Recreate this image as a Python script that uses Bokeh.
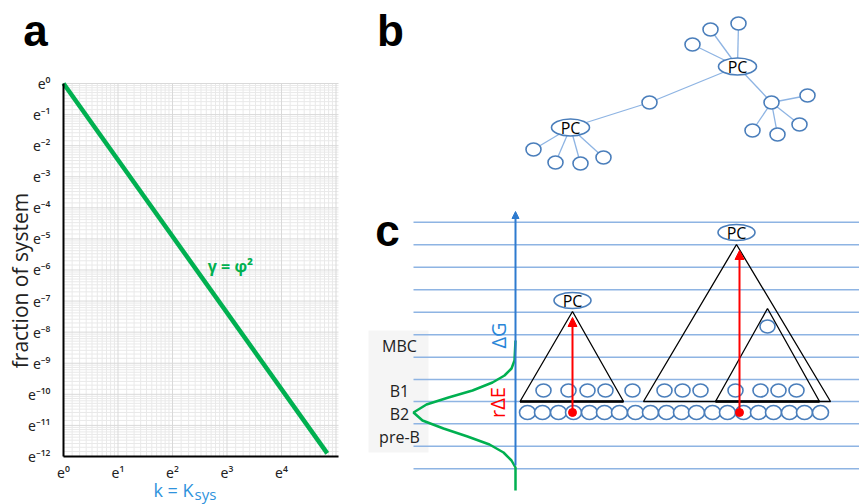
import math
import numpy as np
from bokeh.plotting import figure
from bokeh.layouts import row
from bokeh.models import FixedTicker, CustomJSTickFormatter, Range1d, Arrow, NormalHead
from bokeh.core.properties import value
from bokeh.embed import file_html
from bokeh.resources import INLINE

E = math.e

# ---------------- Panel a data (natural-log exponents) ----------------
k_log = [0.0, 4.84]            # ln k  (k = K_sys)
fraction_log = [0.0, -11.9]    # ln(fraction of system)
x_tick_powers = [0, 1, 2, 3, 4]
y_tick_powers = [0, -1, -2, -3, -4, -5, -6, -7, -8, -9, -10, -11, -12]
x_axis_powers = [0.0, 5.046]   # extent of the plotted x axis
y_axis_powers = [-12.0, 0.0]   # extent of the plotted y axis
curve_label = "γ = φ²"
y_label = "fraction of system"
x_label_main = "k = K"
x_label_sub = "sys"

# ---------------- Panel b data (network) ----------------
b_node_x = [570, 737, 649, 692, 710, 738, 771, 807, 799, 777, 752, 533, 555, 580, 603]
b_node_y = [127, 66, 102, 44, 29, 23, 102, 95, 124, 134, 130, 149, 162, 163, 157]
b_is_pc = [1, 1, 0, 0, 0, 0, 0, 0, 0, 0, 0, 0, 0, 0, 0]
b_edges = [(0, 2), (2, 1), (1, 3), (1, 4), (1, 5), (1, 6), (6, 7), (6, 8), (6, 9), (6, 10),
           (0, 11), (0, 12), (0, 13), (0, 14)]

# ---------------- Panel c data (energy diagram) ----------------
c_levels_y = [221.7, 244.3, 266.7, 289.3, 311.7, 334.3, 356.7, 379, 401, 423.3, 445.7, 468.3]
c_state_labels = ["MBC", "B1", "B2", "pre-B"]
c_state_y = [345, 390, 413, 436]
c_curve_x = [515, 514, 511, 504, 492, 472, 448, 426, 413, 422, 443, 467, 489, 503, 511, 515, 515]
c_curve_y = [340, 360, 368, 375, 382, 390, 397, 404, 412, 420, 428, 436, 444, 452, 460, 467, 490]
c_b2_x = [527, 542, 558, 573, 589, 604, 619, 635, 650, 666, 681, 696, 712, 727, 743, 758, 773, 789, 804, 820]
c_b2_y = 412
c_b1_x = [543, 568, 587, 605, 632, 664, 682, 700, 735, 760, 778, 796]
c_b1_y = 390
c_single_x, c_single_y = 767, 326
c_tri_apex = [(572, 311), (736, 244), (767, 308)]
c_tri_base = [(519.5, 623), (643, 830), (715, 819)]
c_tri_base_y = 401
c_pc_x = [572, 736]
c_pc_y = [300, 232]
c_arrow_x = [572, 739]
c_arrow_y0 = [412, 412]
c_arrow_y1 = [317, 250]

# ====================== Panel a ======================
# page layout of the panel-a frame: pixel of e^0 and pixels per e-fold
X0, XS = 63.0, 54.5
Y0, YS = 83.0, 31.08
W1, W2, H = 355, 504, 504


def px_x(px):
    return E ** ((px - X0) / XS)


def px_y(py):
    return E ** (-(py - Y0) / YS)


p1 = figure(width=W1, height=H, x_axis_type="log", y_axis_type="log",
            x_range=Range1d(px_x(0), px_x(W1)), y_range=Range1d(px_y(H), px_y(0)),
            output_backend="svg", toolbar_location=None, min_border=0)
p1.outline_line_color = None
p1.xgrid.visible = False
p1.ygrid.visible = False

x_lo, x_hi = E ** x_axis_powers[0], E ** x_axis_powers[1]
y_lo, y_hi = E ** y_axis_powers[0], E ** y_axis_powers[1]


def minor_list(lo, hi):
    out = []
    for n in range(lo, hi):
        a, b = E ** n, E ** (n + 1)
        out += [a + j * (b - a) / 10 for j in range(1, 10)]
    return out


# light log grid restricted to the plotting area
vx_minor = [v for v in minor_list(0, 6) if v <= x_hi]
vx_major = [E ** n for n in range(0, 6) if E ** n <= x_hi]
hy_minor = minor_list(-12, 0)
hy_major = [E ** n for n in range(-12, 1)]
p1.segment(x0=vx_minor, y0=[y_lo] * len(vx_minor), x1=vx_minor, y1=[y_hi] * len(vx_minor),
           line_color="#e9e9e9", line_width=1)
p1.segment(x0=[x_lo] * len(hy_minor), y0=hy_minor, x1=[x_hi] * len(hy_minor), y1=hy_minor,
           line_color="#e9e9e9", line_width=1)
p1.segment(x0=vx_major, y0=[y_lo] * len(vx_major), x1=vx_major, y1=[y_hi] * len(vx_major),
           line_color="#d9d9d9", line_width=1)
p1.segment(x0=[x_lo] * len(hy_major), y0=hy_major, x1=[x_hi] * len(hy_major), y1=hy_major,
           line_color="#d9d9d9", line_width=1)

fmt_code = """
const sup = {"0":"\u2070","1":"\u00b9","2":"\u00b2","3":"\u00b3","4":"\u2074","5":"\u2075",
             "6":"\u2076","7":"\u2077","8":"\u2078","9":"\u2079","-":"\u207b"};
const n = Math.round(Math.log(tick));
return "e" + String(n).split("").map(c => sup[c]).join("");
"""
p1.xaxis.ticker = FixedTicker(ticks=[E ** n for n in x_tick_powers])
p1.yaxis.ticker = FixedTicker(ticks=[E ** n for n in y_tick_powers])
p1.xaxis.fixed_location = y_lo
p1.yaxis.fixed_location = x_lo
p1.xaxis.bounds = (x_lo, x_hi)
p1.yaxis.bounds = (y_lo, y_hi)
for ax in (p1.xaxis[0], p1.yaxis[0]):
    ax.formatter = CustomJSTickFormatter(code=fmt_code)
    ax.axis_line_color = "black"
    ax.axis_line_width = 2
    ax.major_tick_line_color = None
    ax.minor_tick_line_color = None
    ax.major_label_text_font = "Noto Sans"
    ax.major_label_text_font_size = "14px"
    ax.major_label_text_color = "#222222"
p1.xaxis.major_label_standoff = 1
p1.yaxis.major_label_standoff = 7

p1.line(x=np.exp(k_log), y=np.exp(fraction_log), line_color="#00B050", line_width=4.5)

p1.text(x=[px_x(230)], y=[px_y(265)], text=[curve_label], text_align="center", text_baseline="middle",
        text_color="#00B050", text_font=value("Open Sans"), text_font_style="bold",
        text_font_size=value("16px"))
p1.text(x=[px_x(19)], y=[px_y(280)], text=[y_label], angle=math.pi / 2, text_align="center",
        text_baseline="middle", text_color="#222222", text_font=value("Open Sans"),
        text_font_size=value("21px"))
p1.text(x=[px_x(193)], y=[px_y(489)], text=[x_label_main], text_align="right", text_baseline="middle",
        text_color="#2F93DC", text_font=value("Open Sans"), text_font_size=value("18px"))
p1.text(x=[px_x(194)], y=[px_y(493)], text=[x_label_sub], text_align="left", text_baseline="middle",
        text_color="#2F93DC", text_font=value("Open Sans"), text_font_size=value("15px"))
p1.text(x=[px_x(35)], y=[px_y(30)], text=["a"], text_align="center", text_baseline="middle",
        text_color="black", text_font=value("Liberation Sans"), text_font_style="bold",
        text_font_size=value("44px"))

# ====================== Panels b & c ======================
p2 = figure(width=W2, height=H, x_range=Range1d(W1, W1 + W2), y_range=Range1d(H, 0),
            output_backend="svg", toolbar_location=None, min_border=0,
            x_axis_location=None, y_axis_location=None)
p2.grid.visible = False
p2.outline_line_color = None

NODE_LINE = "#4A7EBB"
EDGE = "#8EB4E3"

# --- panel b ---
p2.segment(x0=[b_node_x[i] for i, j in b_edges], y0=[b_node_y[i] for i, j in b_edges],
           x1=[b_node_x[j] for i, j in b_edges], y1=[b_node_y[j] for i, j in b_edges],
           line_color=EDGE, line_width=1.3)
p2.ellipse(x=b_node_x, y=b_node_y, width=[38 if pc else 15 for pc in b_is_pc],
           height=[17 if pc else 13 for pc in b_is_pc],
           fill_color="white", line_color=NODE_LINE, line_width=1.6)
p2.text(x=[x for x, pc in zip(b_node_x, b_is_pc) if pc], y=[y for y, pc in zip(b_node_y, b_is_pc) if pc],
        text=["PC", "PC"], text_align="center", text_baseline="middle",
        text_font=value("Open Sans"), text_font_size=value("16px"), text_color="black")

# --- panel c ---
p2.quad(left=[368], right=[428], top=[330], bottom=[452], fill_color="#f5f5f5", line_color=None)
p2.segment(x0=[413] * len(c_levels_y), y0=c_levels_y, x1=[860] * len(c_levels_y), y1=c_levels_y,
           line_color="#8EB4E3", line_width=1.4)
p2.text(x=[399] * len(c_state_labels), y=c_state_y, text=c_state_labels, text_align="center",
        text_baseline="middle", text_font=value("Open Sans"), text_font_size=value("16px"),
        text_color="#222222")
p2.line(x=c_curve_x, y=c_curve_y, line_color="#00B050", line_width=2.5)
p2.add_layout(Arrow(x_start=515, y_start=465, x_end=515, y_end=211,
                    end=NormalHead(size=7, fill_color="#2E7BCF", line_color="#2E7BCF"),
                    line_color="#2E7BCF", line_width=2))
p2.text(x=[498], y=[335], text=["ΔG"], angle=math.pi / 2, text_align="center", text_baseline="middle",
        text_font=value("Open Sans"), text_font_size=value("20px"), text_color="#2A86D8")
p2.text(x=[497], y=[402], text=["rΔE"], angle=math.pi / 2, text_align="center", text_baseline="middle",
        text_font=value("Open Sans"), text_font_size=value("20px"), text_color="#FF0000")

p2.ellipse(x=c_b2_x, y=[c_b2_y] * len(c_b2_x), width=16, height=14,
           fill_color="white", line_color=NODE_LINE, line_width=1.6)
p2.ellipse(x=c_b1_x, y=[c_b1_y] * len(c_b1_x), width=15, height=13,
           fill_color="white", line_color=NODE_LINE, line_width=1.6)
p2.ellipse(x=[c_single_x], y=[c_single_y], width=15, height=13,
           fill_color="white", line_color=NODE_LINE, line_width=1.6)

tri_xs = [[bl, ax_, br] for (ax_, ay), (bl, br) in zip(c_tri_apex, c_tri_base)]
tri_ys = [[c_tri_base_y, ay, c_tri_base_y] for (ax_, ay), (bl, br) in zip(c_tri_apex, c_tri_base)]
p2.patches(xs=tri_xs, ys=tri_ys, fill_color=None, line_color="black", line_width=1.3)
p2.segment(x0=[c_tri_base[0][0], c_tri_base[2][0]], y0=[c_tri_base_y] * 2,
           x1=[c_tri_base[0][1], c_tri_base[2][1]], y1=[c_tri_base_y] * 2,
           line_color="black", line_width=2.4)

for xa, y0, y1 in zip(c_arrow_x, c_arrow_y0, c_arrow_y1):
    p2.add_layout(Arrow(x_start=xa, y_start=y0, x_end=xa, y_end=y1,
                        end=NormalHead(size=9, fill_color="#FF0000", line_color="#FF0000"),
                        line_color="#FF0000", line_width=2))
p2.scatter(x=c_arrow_x, y=c_arrow_y0, size=8, color="#FF0000")

p2.ellipse(x=c_pc_x, y=c_pc_y, width=37, height=16, fill_color="white", line_color=NODE_LINE, line_width=1.6)
p2.text(x=c_pc_x, y=c_pc_y, text=["PC", "PC"], text_align="center", text_baseline="middle",
        text_font=value("Open Sans"), text_font_size=value("16px"), text_color="black")

p2.text(x=[390, 387], y=[30, 230], text=["b", "c"], text_align="center", text_baseline="middle",
        text_font=value("Liberation Sans"), text_font_style="bold", text_font_size=value("44px"),
        text_color="black")

layout = row(p1, p2, spacing=0)
open("out.html", "w").write(file_html(layout, INLINE))
